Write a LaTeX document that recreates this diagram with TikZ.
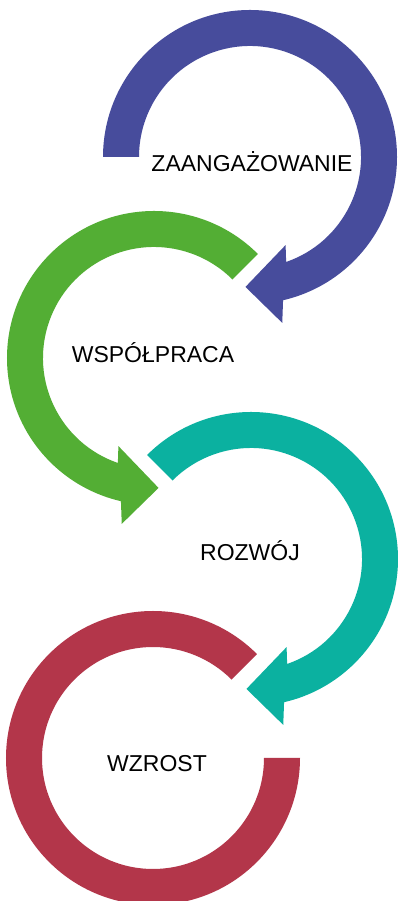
\documentclass[tikz,border=0pt]{standalone}
\usepackage{fontspec}
\setmainfont{Liberation Sans}
\usepackage{xcolor}
\usetikzlibrary{positioning}
\definecolor{ringBlue}{HTML}{474C9C}
\definecolor{ringGreen}{HTML}{53AE34}
\definecolor{ringTeal}{HTML}{0BB1A0}
\definecolor{ringRed}{HTML}{B3364A}
\tikzset{
  arwB/.style={fill=ringBlue, draw=none},
  arwG/.style={fill=ringGreen, draw=none},
  arwT/.style={fill=ringTeal, draw=none},
  arwR/.style={fill=ringRed, draw=none},
  lbl/.style ={font=\fontsize{23}{27}\selectfont, text=black, inner sep=0pt, anchor=base},
}
\begin{document}
\begin{tikzpicture}[x=1pt, y=1pt]
  \useasboundingbox[fill=white] (0,0) rectangle (398,901);
  \coordinate (cB) at (250,744);
  \coordinate (cG) at (154,543);
  \coordinate (cT) at (251,342);
  \coordinate (cR) at (153,143);
  % blue: from the left, clockwise
  \fill[arwB] ([shift={(180:147pt)}]cB) arc[start angle=180, end angle=-77, radius=147pt]
    -- ([shift={(-79:169pt)}]cB) -- ([shift={(-92:130pt)}]cB) -- ([shift={(-68:95pt)}]cB)
    -- ([shift={(-71:111pt)}]cB) arc[start angle=-71, end angle=180, radius=111pt] -- cycle;
  % green: counter-clockwise
  \fill[arwG] ([shift={(45:147pt)}]cG) arc[start angle=45, end angle=257, radius=147pt]
    -- ([shift={(259:169pt)}]cG) -- ([shift={(272:130pt)}]cG) -- ([shift={(248:95pt)}]cG)
    -- ([shift={(251:111pt)}]cG) arc[start angle=251, end angle=45, radius=111pt] -- cycle;
  % teal: clockwise
  \fill[arwT] ([shift={(135:147pt)}]cT) arc[start angle=135, end angle=-77, radius=147pt]
    -- ([shift={(-79:169pt)}]cT) -- ([shift={(-92:130pt)}]cT) -- ([shift={(-68:95pt)}]cT)
    -- ([shift={(-71:111pt)}]cT) arc[start angle=-71, end angle=135, radius=111pt] -- cycle;
  % red ring, no head
  \fill[arwR] ([shift={(45:147pt)}]cR) arc[start angle=45, end angle=360, radius=147pt]
    -- ([shift={(0:111pt)}]cR) arc[start angle=360, end angle=45, radius=111pt] -- cycle;
  \node[lbl] (zaang) at ([shift={(2,-15)}]cB) {ZAANGAŻOWANIE};
  \node[lbl] (wsp)   at ([shift={(-1,-5)}]cG) {WSPÓŁPRACA};
  \node[lbl] (rozw)  at ([shift={(-1,-2)}]cT) {ROZWÓJ};
  \node[lbl] (wzr)   at ([shift={(4,-14)}]cR) {WZROST};
\end{tikzpicture}
\end{document}
